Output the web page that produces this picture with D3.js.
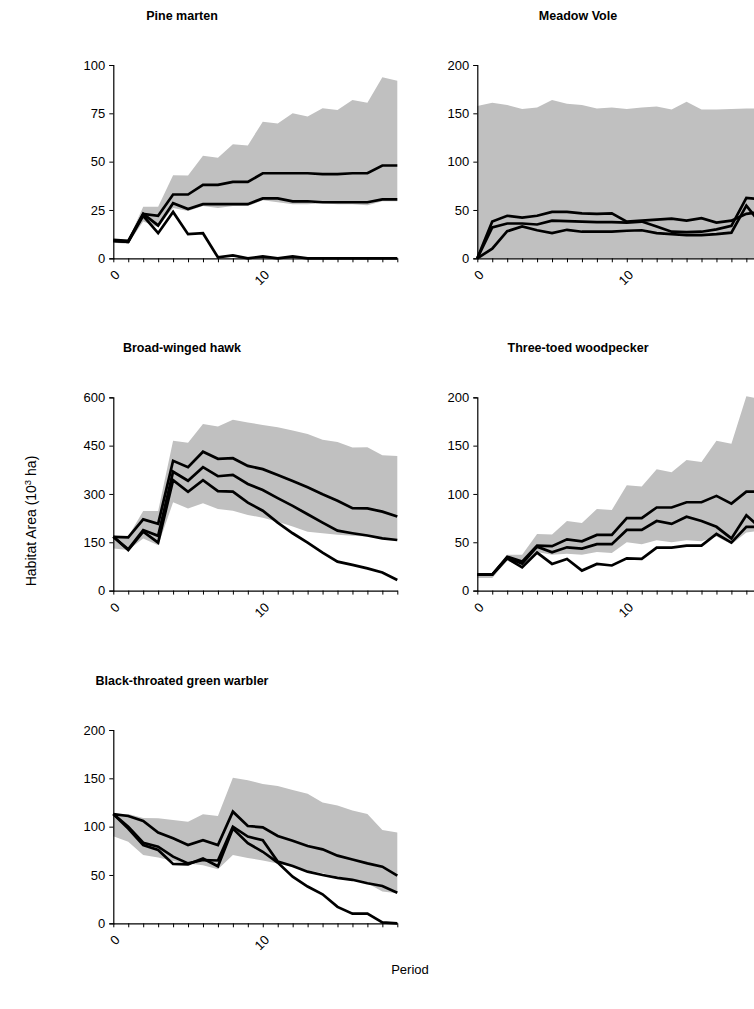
<!DOCTYPE html>
<html><head><meta charset="utf-8">
<script src="https://cdnjs.cloudflare.com/ajax/libs/d3/7.8.5/d3.min.js"></script>
<style>html,body{margin:0;padding:0;background:#fff;overflow:hidden}</style>
</head><body><svg id="chart" width="754" height="1009"></svg>
<script>
// ---------- data ----------
const periods = [0,1,2,3,4,5,6,7,8,9,10,11,12,13,14,15,16,17,18,19];
const xTickLabels = ["0","10"];
const titles = ["Pine marten","Meadow Vole","Broad-winged hawk","Three-toed woodpecker","Black-throated green warbler"];
const yAxisTitle = "Habitat Area (10";
const xAxisTitle = "Period";

const martenTicks = [0,25,50,75,100];
const martenUpper = [10,9.5,26.7,26.7,43,42.8,53,52,59,58.4,70.7,69.8,75,73.3,77.6,76.7,81.9,80.5,93.6,91.9];
const martenLower = [8,7.5,19,16,26,24.5,27,26,27,27,30,29,28,28,28.5,28,28,27.5,29.5,29.5];
const martenA = [9.5,9,23,22,33,33,38,38,39.5,39.5,44,44,44,44,43.5,43.5,44,44,48,48];
const martenB = [9,8.5,23,17,28.5,25.5,28,28,28,28,31,31,29.5,29.5,29,29,29,29,30.5,30.5];
const martenC = [9,8.5,22,13,24,12.5,13,0.5,1.5,0,1,0,1,0,0,0,0,0,0,0];

const voleTicks = [0,50,100,150,200];
const voleUpper = [157.6,161,158.6,154.5,156,163.8,160,158.6,155,156,154.5,156,157,154,162,154,154,154.5,155,155];
const voleLower = [0,0,0,0,0,0,0,0,0,0,0,0,0,0,0,0,0,0,0,0];
const voleA = [0,38,44,42,44,48,48,46.5,46,46.5,38,39,40,41,39,41.5,37,39,46,48];
const voleB = [0,32,36,36,35,39,38.5,38,37.5,37.5,37,38,33,27.5,27,27.5,30,33.5,62.5,61];
const voleC = [0,10,28,33,29,26,29.5,27.5,27.5,27.5,28.5,29,26,25,24,24,25,26.5,54.5,35];

const hawkTicks = [0,150,300,450,600];
const hawkUpper = [170,168,247,247,465,459,517,509,530,522,514,507,497,486,468,461,444,445,420,418];
const hawkLower = [131,126,162,141,274,255,271,253,248,235,226,214,199,183,178,173,170,168,162,157];
const hawkA = [167,165,221,207,403,383,431,409,411,387,377,359,340,321,299,279,256,255,245,230];
const hawkB = [167,128,188,170,369,341,383,355,359,331,312,287,263,237,211,186,178,171,162,157];
const hawkC = [167,126,183,149,343,307,343,309,307,273,248,211,178,149,118,90,80,69,56,33];

const woodTicks = [0,50,100,150,200];
const woodUpper = [17,16,37,37,58.6,58,72,70,84.5,83.4,109,107.6,125.5,122.4,135,133,155,152,201,198];
const woodLower = [13,13,31,25,40,37,38,37,40,39,50,48,52,50,52,51,56,48,60,62];
const woodA = [16.5,16.5,35,30,46.5,46,53,51,57.6,57.6,75,75,86,86,91.4,91.4,98,90,102.4,102.4];
const woodB = [16.5,16.5,34,28,45.5,39.6,44.8,43.4,48,48,62.8,62.8,72,69,76.5,72,66,54,78,64];
const woodC = [16.5,16.5,33.4,24,39.3,27.6,32.8,20.7,27.6,26,33.4,32.8,44.5,44.5,46.5,46.5,58.6,49.7,66,66];

const warblerTicks = [0,50,100,150,200];
const warblerUpper = [113,113,109,108.6,107,105,112.8,111,150.7,148,144,142,138,134,125,122,116.6,113,96.5,94];
const warblerLower = [90,84.5,70.7,68,64.5,62,60,56,70.7,67.6,65,62,58.6,55,51.7,48.3,45.5,41.4,32.8,31];
const warblerA = [113,111,106,94,88,81,86,81,115.5,100.7,99.3,90.3,85.5,80,76.5,70,66,62,58.6,49.3];
const warblerB = [113,100,83.4,79.3,69,62,65.5,65,100,89.7,86,63.8,59.3,53.4,50,47,45,41.4,38.6,31.7];
const warblerC = [113,98,81,75.9,61.4,61,67,59,98,82.8,74,62.8,48.3,38,30,17,10,10,1,0];

// ---------- layout ----------
const FONT = "Arial, 'Liberation Sans', sans-serif";
const colX = [113.3, 477.3];
const titleX = [182, 578];
const rowTop = [65, 397.3, 730];
const plotW = 284, plotH = 193.3;

const panels = [
  {title: titles[0], ticks: martenTicks, upper: martenUpper, lower: martenLower, lines: [martenA, martenB, martenC], c: 0, r: 0},
  {title: titles[1], ticks: voleTicks, upper: voleUpper, lower: voleLower, lines: [voleA, voleB, voleC], c: 1, r: 0},
  {title: titles[2], ticks: hawkTicks, upper: hawkUpper, lower: hawkLower, lines: [hawkA, hawkB, hawkC], c: 0, r: 1},
  {title: titles[3], ticks: woodTicks, upper: woodUpper, lower: woodLower, lines: [woodA, woodB, woodC], c: 1, r: 1},
  {title: titles[4], ticks: warblerTicks, upper: warblerUpper, lower: warblerLower, lines: [warblerA, warblerB, warblerC], c: 0, r: 2}
];

const svg = d3.select("#chart");

panels.forEach(p => {
  const x0 = colX[p.c], y0 = rowTop[p.r];
  const x = d3.scalePoint().domain(periods).range([x0, x0 + plotW]);
  const y = d3.scaleLinear().domain([p.ticks[0], p.ticks[p.ticks.length - 1]]).range([y0 + plotH, y0]);
  const g = svg.append("g");

  // band
  const band = periods.map((d, i) => ({d, lo: p.lower[i], hi: p.upper[i]}));
  g.append("path").datum(band)
    .attr("fill", "#c0c0c0")
    .attr("d", d3.area().x(v => x(v.d)).y0(v => y(v.lo)).y1(v => y(v.hi)));

  // lines
  p.lines.forEach(arr => {
    g.append("path").datum(periods.map((d, i) => ({d, v: arr[i]})))
      .attr("fill", "none").attr("stroke", "#000").attr("stroke-width", 2.7)
      .attr("stroke-linejoin", "miter")
      .attr("d", d3.line().x(v => x(v.d)).y(v => y(v.v)));
  });

  // y axis
  const ya = g.append("g").attr("transform", `translate(${x0},0)`)
    .call(d3.axisLeft(y).tickValues(p.ticks).tickSize(4).tickPadding(4).tickFormat(d3.format("d")));
  ya.select(".domain").attr("stroke", "#000").attr("stroke-width", 1.2);
  ya.selectAll(".tick line").attr("stroke", "#000");
  ya.selectAll("text").attr("font-family", FONT).attr("font-size", 13).attr("fill", "#000");

  // x axis
  const xa = g.append("g").attr("transform", `translate(0,${y0 + plotH})`)
    .call(d3.axisBottom(x).tickSize(4).tickSizeOuter(0).tickFormat(() => ""));
  xa.select(".domain").attr("stroke", "#000").attr("stroke-width", 1.2);
  xa.selectAll(".tick line").attr("stroke", "#000");
  xa.selectAll(".tick text").remove();

  xTickLabels.forEach(lbl => {
    const px = x(+lbl);
    g.append("text")
      .attr("transform", `translate(${px + 5},${y0 + plotH + 15}) rotate(-45)`)
      .attr("text-anchor", "end").attr("dominant-baseline", "middle")
      .attr("font-family", FONT).attr("font-size", 13).attr("fill", "#000")
      .text(lbl);
  });

  // title
  g.append("text")
    .attr("x", titleX[p.c]).attr("y", y0 - 45)
    .attr("text-anchor", "middle")
    .attr("font-family", FONT).attr("font-size", 12.5).attr("font-weight", "bold").attr("fill", "#000")
    .text(p.title);
});

// y axis title
const yt = svg.append("text")
  .attr("transform", "translate(36,521) rotate(-90)")
  .attr("text-anchor", "middle")
  .attr("font-family", FONT).attr("font-size", 14).attr("fill", "#000");
yt.append("tspan").text(yAxisTitle);
yt.append("tspan").attr("dy", -5).attr("font-size", 9.5).text("3");
yt.append("tspan").attr("dy", 5).text(" ha)");

svg.append("text")
  .attr("x", 410).attr("y", 974)
  .attr("text-anchor", "middle")
  .attr("font-family", FONT).attr("font-size", 13).attr("fill", "#000")
  .text(xAxisTitle);
</script></body></html>
